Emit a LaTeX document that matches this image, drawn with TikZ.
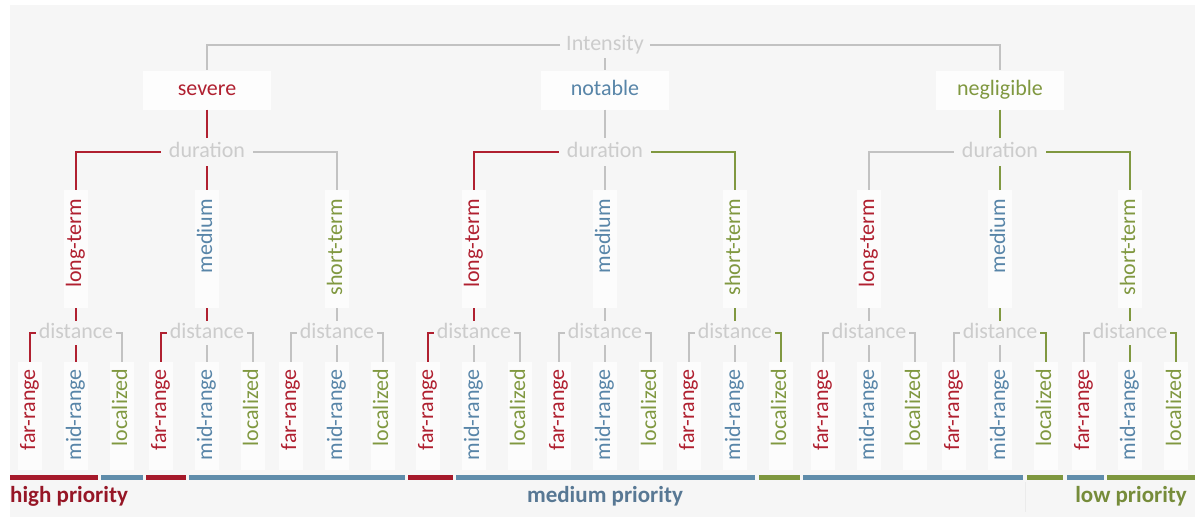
\documentclass[tikz,border=0pt]{standalone}
\usepackage{fontspec}
\setmainfont{Carlito}
\definecolor{cR}{RGB}{176,32,48}
\definecolor{cB}{RGB}{88,133,168}
\definecolor{cG}{RGB}{128,152,64}
\definecolor{cL}{RGB}{194,194,194}
\definecolor{cT}{RGB}{204,204,204}
\definecolor{bgc}{RGB}{246,246,246}
\definecolor{boxc}{RGB}{253,253,253}
\definecolor{pR}{RGB}{150,22,38}
\definecolor{pB}{RGB}{88,120,148}
\definecolor{pG}{RGB}{118,140,58}
\definecolor{bR}{RGB}{165,25,42}
\definecolor{bB}{RGB}{95,140,170}
\definecolor{bG}{RGB}{125,150,62}
\begin{document}
\begin{tikzpicture}[x=1pt,y={(0pt,-1pt)},
  base/.style={font=\fontsize{22}{26}\selectfont, text height=15pt, text depth=5pt, inner ysep=3pt, inner xsep=6pt},
  lvlone/.style={base, fill=boxc, minimum width=128pt, inner ysep=9.5pt},
  durn/.style={base, text=cT, inner xsep=8pt, inner ysep=4pt},
  lvltwo/.style={base, fill=white!70!bgc, rotate=90, anchor=east, text width=100pt, align=right, inner xsep=9pt, inner ysep=2pt},
  dst/.style={base, text=cT, inner xsep=3pt, inner ysep=2pt},
  lf/.style={base, fill=white!70!bgc, rotate=90, anchor=east, text width=94pt, align=right, inner xsep=7pt, inner ysep=2pt},
  prio/.style={base, font=\fontsize{23}{27}\selectfont\bfseries, inner xsep=0pt},
  lnL/.style={draw=cL, line width=1.8pt},
  lnR/.style={draw=cR, line width=2.8pt},
  lnB/.style={draw=cB, line width=2.8pt},
  lnG/.style={draw=cG, line width=2.8pt}]
\useasboundingbox (0,0) rectangle (1195,517);
\fill[white] (0,0) rectangle (1195,517);
\fill[bgc] (10,5) rectangle (1195,517);

% nodes
\node[base, text=cT] (I) at (605,45) {Intensity};
\node[lvlone, text=cR] (g1) at (207,90) {severe};
\node[lvlone, text=cB] (g2) at (605,90) {notable};
\node[lvlone, text=cG] (g3) at (1000,90) {negligible};
\foreach \g/\X in {1/207,2/605,3/1000}
  \node[durn] (d\g) at (\X,152) {duration};

\foreach \g/\c/\x/\t/\tc in {1/1/76/long-term/cR, 1/2/207/medium/cB, 1/3/337/short-term/cG,
  2/1/474/long-term/cR, 2/2/605/medium/cB, 2/3/735/short-term/cG,
  3/1/869/long-term/cR, 3/2/1000/medium/cB, 3/3/1130/short-term/cG}{
  \node[lvltwo, text=\tc] (c\g\c) at (\x,190) {\t};
  \node[dst] (s\g\c) at (\x,333) {distance};
  \node[lf, text=cR] (f\g\c) at (\x-46,362) {far-range};
  \node[lf, text=cB] (m\g\c) at (\x,362) {mid-range};
  \node[lf, text=cG] (z\g\c) at (\x+46,362) {localized};
}

% connectors
\draw[lnL] (I.west) -| (g1.north);
\draw[lnL] (I.east) -| (g3.north);
\draw[lnL] (I.south) -- (g2.north);
\draw[lnR] (g1.south) -- (d1.north);
\draw[lnL] (g2.south) -- (d2.north);
\draw[lnG] (g3.south) -- (d3.north);

\foreach \g/\ca/\cb/\cd in {1/lnR/lnR/lnL, 2/lnR/lnL/lnG, 3/lnL/lnG/lnG}{
  \draw[\ca] (d\g.west) -| (c\g1.east);
  \draw[\cb] (d\g.south) -- (c\g2.east);
  \draw[\cd] (d\g.east) -| (c\g3.east);
}

\foreach \g/\c/\k/\fa/\ma/\za in {1/1/lnR/lnR/lnR/lnL, 1/2/lnR/lnR/lnL/lnL, 1/3/lnL/lnL/lnL/lnL,
  2/1/lnR/lnR/lnL/lnL, 2/2/lnL/lnL/lnL/lnL, 2/3/lnG/lnL/lnL/lnG,
  3/1/lnL/lnL/lnL/lnL, 3/2/lnG/lnL/lnL/lnG, 3/3/lnG/lnL/lnG/lnG}{
  \draw[\k] (c\g\c.west) -- (s\g\c.north);
  \draw[\fa] (s\g\c.west) -| (f\g\c.east);
  \draw[\ma] (s\g\c.south) -- (m\g\c.east);
  \draw[\za] (s\g\c.east) -| (z\g\c.east);
}

% priority bars
\foreach \a/\b/\col in {10/98/bR, 101/143/bB, 146/186/bR, 189/405/bB, 408/453/bR, 456/755/bB,
  759/800/bG, 803/1023/bB, 1027/1063/bG, 1067/1104/bB, 1107/1195/bG}
  \fill[\col] (\a,474.5) rectangle (\b,479.5);
\draw[black!8, line width=0.8pt] (1025,482) -- (1025,512);

\node[prio, text=pR, anchor=west] (hp) at (10,497) {high priority};
\node[prio, text=pB] (mp) at (605,497) {medium priority};
\node[prio, text=pG, anchor=east] (lp) at (1187,497) {low priority};
\end{tikzpicture}
\end{document}
